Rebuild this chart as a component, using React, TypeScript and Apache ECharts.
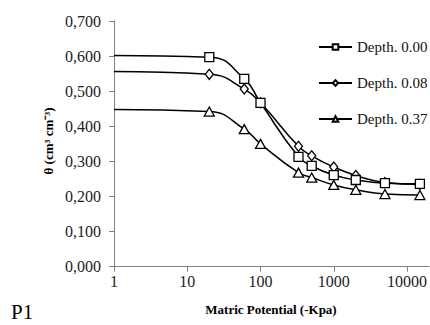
import React, { useEffect, useRef } from "react";
import * as echarts from "echarts";

const potentials = [1, 20, 60, 100, 330, 500, 1000, 2000, 5000, 15000];
const depth000 = [0.602, 0.597, 0.535, 0.467, 0.313, 0.287, 0.261, 0.247, 0.238, 0.236];
const depth008 = [0.556, 0.548, 0.506, 0.467, 0.343, 0.316, 0.284, 0.26, 0.24, 0.234];
const depth037 = [0.448, 0.442, 0.392, 0.35, 0.268, 0.254, 0.233, 0.219, 0.207, 0.204];
const seriesNames = ["Depth. 0.00", "Depth. 0.08", "Depth. 0.37"];
const xTickLabels = ["1", "10", "100", "1000", "10000"];

const FONT = "Liberation Serif";

function buildData(values: number[]) {
  return values.map((v, i) =>
    i === 0 ? { value: [potentials[i], v], symbol: "none" } : { value: [potentials[i], v] }
  );
}

export default function App() {
  const ref = useRef<HTMLDivElement>(null);
  useEffect(() => {
    if (!ref.current) return;
    const chart = echarts.init(ref.current, null, { renderer: "svg" });
    const symbols = ["rect", "diamond", "triangle"];
    const sizes: any[] = [9, [8, 10], [10, 9]];
    const all = [depth000, depth008, depth037];
    chart.setOption({
      animation: false,
      backgroundColor: "#fff",
      grid: { left: 114, top: 21, width: 317.2, height: 245.7, containLabel: false },
      xAxis: {
        type: "log",
        logBase: 10,
        min: 1,
        max: 20000,
        axisLine: { show: true, lineStyle: { color: "#808080", width: 1 } },
        axisTick: { show: true, length: 5, lineStyle: { color: "#808080" } },
        minorTick: { show: false },
        splitLine: { show: false },
        axisLabel: {
          margin: 7,
          fontFamily: FONT,
          fontSize: 16,
          color: "#222",
          showMaxLabel: false,
          formatter: (v: number) => {
            const s = String(Math.round(v));
            return xTickLabels.indexOf(s) >= 0 ? s : "";
          },
        },
      },
      yAxis: {
        type: "value",
        min: 0,
        max: 0.7,
        interval: 0.1,
        axisLine: { show: true, lineStyle: { color: "#808080", width: 1 } },
        axisTick: { show: true, length: 5, lineStyle: { color: "#808080" } },
        splitLine: { show: false },
        axisLabel: {
          margin: 13,
          fontFamily: FONT,
          fontSize: 16,
          color: "#222",
          formatter: (v: number) => v.toFixed(3).replace(".", ","),
        },
      },
      legend: {
        orient: "vertical",
        left: 318,
        top: 39,
        padding: 0,
        itemWidth: 33,
        itemHeight: 7,
        itemGap: 20,
        textStyle: { fontFamily: FONT, fontSize: 15, color: "#111", lineHeight: 16 },
        data: seriesNames,
      },
      series: all.map((vals, i) => ({
        name: seriesNames[i],
        type: "line",
        smooth: 0.5,
        data: buildData(vals),
        symbol: symbols[i],
        symbolSize: sizes[i],
        showAllSymbol: true,
        lineStyle: { color: "#000", width: 1.5 },
        itemStyle: { color: "#fff", borderColor: "#000", borderWidth: 1.3 },
        z: 3 - i,
      })),
      graphic: [
        {
          type: "text",
          x: 271,
          y: 309,
          style: {
            text: "Matric Potential (-Kpa)",
            font: `bold 13px ${FONT}`,
            fill: "#000",
            align: "center",
            verticalAlign: "middle",
          },
        },
        {
          type: "text",
          x: 48,
          y: 141,
          rotation: Math.PI / 2,
          style: {
            text: "θ (cm³ cm⁻³)",
            font: `bold 13px ${FONT}`,
            fill: "#000",
            align: "center",
            verticalAlign: "middle",
          },
        },
        {
          type: "text",
          x: 11,
          y: 312,
          style: {
            text: "P1",
            font: `21px ${FONT}`,
            fill: "#000",
            align: "left",
            verticalAlign: "middle",
          },
        },
      ],
    });
    return () => chart.dispose();
  }, []);
  return <div ref={ref} style={{ width: 430, height: 325, position: "absolute", left: 0, top: 0 }} />;
}
